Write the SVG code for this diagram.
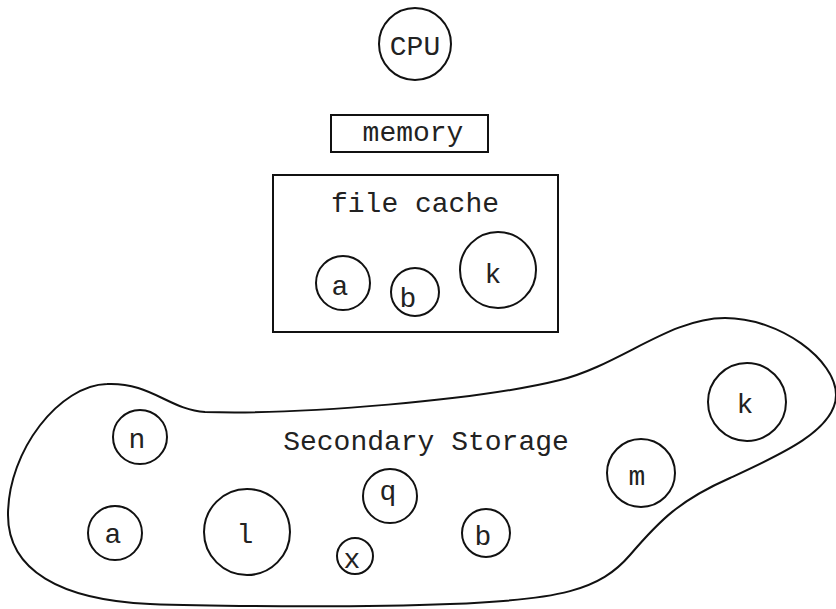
<svg xmlns="http://www.w3.org/2000/svg" width="836" height="609" viewBox="0 0 836 609">
<style>
.s{fill:none;stroke:#111;stroke-width:2}
.t{font-family:"Liberation Mono","Courier New",monospace;font-size:28px;fill:#222;text-anchor:middle}
</style>
<rect width="836" height="609" fill="#fff"/>
<g id="cpu"><circle class="s" cx="415" cy="44" r="36"/><text class="t" x="415" y="55">CPU</text></g>
<g id="memory"><rect class="s" x="331" y="115" width="157" height="37"/><text class="t" x="413" y="141">memory</text></g>
<g id="file-cache"><rect class="s" x="273" y="175" width="285" height="157"/><text class="t" x="415" y="212">file cache</text>
<g id="fc-a"><circle class="s" cx="343" cy="283" r="27"/><text class="t" x="340" y="295">a</text></g>
<g id="fc-b"><circle class="s" cx="415" cy="292" r="24"/><text class="t" x="408" y="307">b</text></g>
<g id="fc-k"><circle class="s" cx="498" cy="270" r="38"/><text class="t" x="493" y="283">k</text></g>
</g>
<g id="secondary-storage">
<path class="s" d="M107,384 C150,382 170,410 205,412 C300,415 480,400 560,380 C620,365 670,318 725,318 C780,318 836,360 836,395 C836,430 780,455 730,478 C680,500 660,520 630,555 C600,590 560,600 450,604 C350,608 200,606 150,604 C60,600 8,570 8,515 C8,450 60,385 107,384 Z"/>
<text class="t" x="426" y="450">Secondary Storage</text>
<g id="ss-n"><circle class="s" cx="140" cy="437" r="27"/><text class="t" x="137" y="448">n</text></g>
<g id="ss-a"><circle class="s" cx="115" cy="533" r="27"/><text class="t" x="113" y="543">a</text></g>
<g id="ss-l"><circle class="s" cx="247" cy="532" r="43"/><text class="t" x="245" y="543">l</text></g>
<g id="ss-x"><circle class="s" cx="355" cy="556" r="18"/><text class="t" x="352" y="568">x</text></g>
<g id="ss-q"><circle class="s" cx="390" cy="496" r="27"/><text class="t" x="388" y="500">q</text></g>
<g id="ss-b"><circle class="s" cx="486" cy="533" r="24"/><text class="t" x="483" y="545">b</text></g>
<g id="ss-m"><circle class="s" cx="641" cy="473" r="34"/><text class="t" x="637" y="485">m</text></g>
<g id="ss-k"><circle class="s" cx="747" cy="402" r="39"/><text class="t" x="745" y="413">k</text></g>
</g>
<g id="connectors"></g>
</svg>
